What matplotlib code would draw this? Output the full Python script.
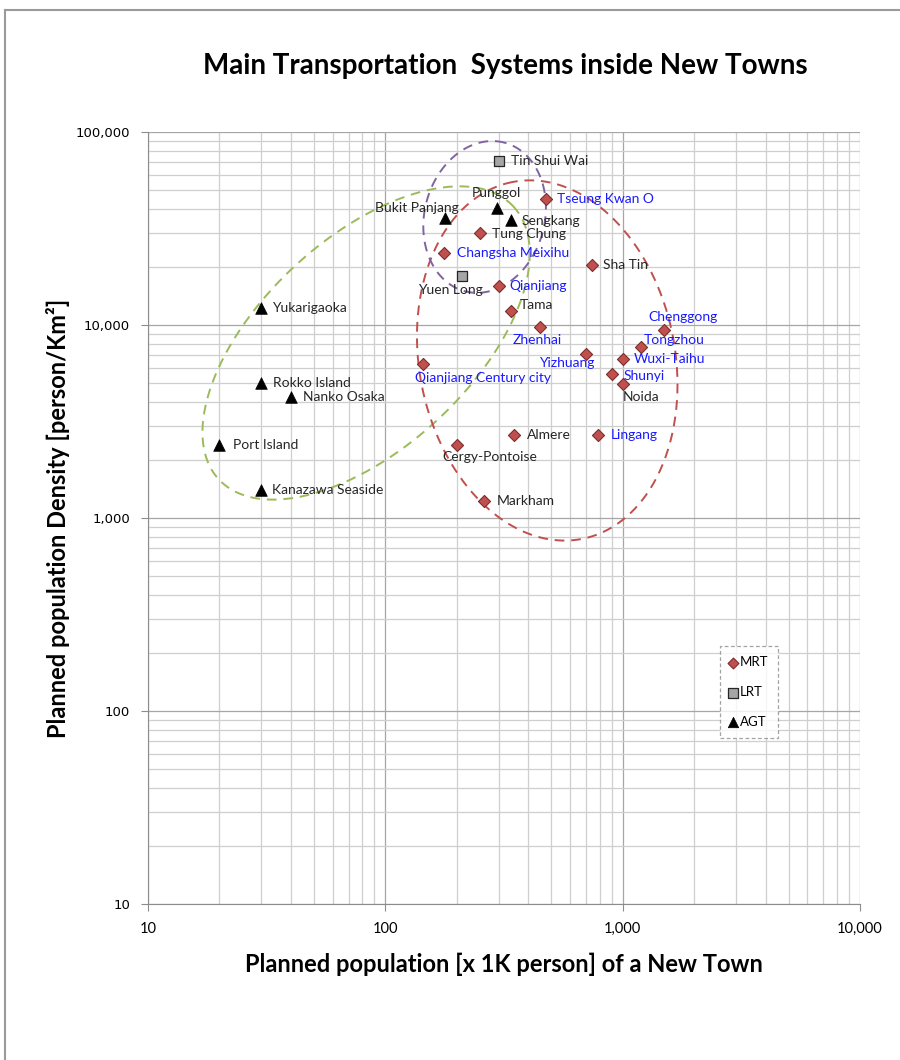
import numpy as np
import matplotlib
matplotlib.use("Agg")
import matplotlib.pyplot as plt
from matplotlib.lines import Line2D
from matplotlib.ticker import FuncFormatter, LogLocator, NullFormatter

# ---- data: planned population [x1K person], planned density [person/km2]
mrt_names = ["Tseung Kwan O", "Tung Chung", "Changsha Meixihu", "Sha Tin", "Qianjiang",
             "Tama", "Zhenhai", "Chenggong", "Tongzhou", "Wuxi-Taihu", "Yizhuang",
             "Shunyi", "Noida", "Qianjiang Century city", "Almere", "Lingang",
             "Cergy-Pontoise", "Markham"]
mrt_pop = [475, 250, 176, 740, 300, 340, 450, 1490, 1190, 1000, 700, 900, 1000, 144,
           350, 790, 200, 260]
mrt_density = [45000, 30000, 23500, 20500, 16000, 11800, 9800, 9400, 7700, 6700, 7100,
               5600, 4950, 6300, 2700, 2700, 2400, 1230]
mrt_blue = ["Tseung Kwan O", "Changsha Meixihu", "Qianjiang", "Zhenhai", "Chenggong",
            "Tongzhou", "Wuxi-Taihu", "Yizhuang", "Shunyi", "Qianjiang Century city",
            "Lingang"]

lrt_names = ["Tin Shui Wai", "Yuen Long"]
lrt_pop = [300, 210]
lrt_density = [70500, 18000]

agt_names = ["Bukit Panjang", "Punggol", "Sengkang", "Yukarigaoka", "Rokko Island",
             "Nanko Osaka", "Port Island", "Kanazawa Seaside"]
agt_pop = [178, 295, 340, 30, 30, 40, 20, 30]
agt_density = [36000, 40500, 35000, 12200, 5000, 4250, 2400, 1400]

# label offsets in pixels (dx, dy, ha)
label_pos = {
    "Tin Shui Wai": (12, 0, "left"), "Punggol": (0, 15, "center"),
    "Bukit Panjang": (14, 10, "right"), "Sengkang": (10, -1, "left"),
    "Tung Chung": (12, -1, "left"), "Tseung Kwan O": (11, 0, "left"),
    "Changsha Meixihu": (13, 0, "left"), "Sha Tin": (11, 0, "left"),
    "Yuen Long": (-11, -14, "center"), "Qianjiang": (11, 0, "left"),
    "Tama": (8, 6, "left"), "Zhenhai": (-3, -13, "center"),
    "Chenggong": (19, 13, "center"), "Tongzhou": (3, 7, "left"),
    "Wuxi-Taihu": (11, 0, "left"), "Yizhuang": (8, -9, "right"),
    "Shunyi": (12, -2, "left"), "Noida": (0, -13, "left"),
    "Qianjiang Century city": (-8, -14, "left"), "Almere": (12, 0, "left"),
    "Lingang": (12, 0, "left"), "Cergy-Pontoise": (-14, -12, "left"),
    "Markham": (13, 0, "left"), "Yukarigaoka": (11, 0, "left"),
    "Rokko Island": (12, 0, "left"), "Nanko Osaka": (12, 0, "left"),
    "Port Island": (14, 0, "left"), "Kanazawa Seaside": (11, 0, "left"),
}

# group ellipses: centre (pop, density), semi-axes in x-decades, tilt in degrees
ellipses = [
    ((83, 8070), 0.846, 0.442, 42.8, "#9BBB59"),
    ((481, 6550), 0.766, 0.539, 101, "#C0504D"),
    ((262, 36300), 0.324, 0.253, 75, "#8064A2"),
]

plt.rcParams["font.family"] = ["Lato", "DejaVu Sans"]

fig = plt.figure(figsize=(9, 10.6), dpi=100)
ax = fig.add_axes([148 / 900, 1 - 904 / 1060, 712 / 900, 772 / 1060])
ax.set_xscale("log")
ax.set_yscale("log")
ax.set_xlim(10, 10000)
ax.set_ylim(10, 100000)

ax.grid(True, which="major", color="#a6a6a6", lw=0.9)
ax.grid(True, which="minor", color="#cfcfcf", lw=0.9)
ax.xaxis.set_minor_locator(LogLocator(base=10, subs=np.arange(2, 10)))
ax.yaxis.set_minor_locator(LogLocator(base=10, subs=np.arange(2, 10)))
ax.xaxis.set_minor_formatter(NullFormatter())
ax.yaxis.set_minor_formatter(NullFormatter())
fmt = FuncFormatter(lambda v, p: f"{v:,.0f}")
ax.xaxis.set_major_formatter(fmt)
ax.yaxis.set_major_formatter(fmt)
ax.set_axisbelow(True)
for s in ["top", "right"]:
    ax.spines[s].set_visible(False)
for s in ["left", "bottom"]:
    ax.spines[s].set_color("#8c8c8c")
ax.tick_params(which="major", length=5, color="#8c8c8c", labelsize=10.5, pad=8)
ax.tick_params(which="minor", length=0)
for lab in ax.get_yticklabels():
    lab.set_fontfamily("DejaVu Sans")
    lab.set_fontsize(9.5)

# ellipses drawn in log space
xdec_px = 712 / 3
ydec_px = 772 / 4
t = np.linspace(0, 2 * np.pi, 400)
for (cx, cy), a, b, ang, col in ellipses:
    ph = np.radians(ang)
    dx = a * np.cos(t) * np.cos(ph) - b * np.sin(t) * np.sin(ph)
    dy = (a * np.cos(t) * np.sin(ph) + b * np.sin(t) * np.cos(ph)) * xdec_px / ydec_px
    ax.plot(cx * 10 ** dx, cy * 10 ** dy, color=col, lw=1.4, ls=(0, (5, 3.5)), zorder=2)

ax.scatter(mrt_pop, mrt_density, marker="D", s=38, color="#C0504D",
           edgecolor="#7a2e2c", lw=0.8, zorder=4, label="MRT")
ax.scatter(lrt_pop, lrt_density, marker="s", s=60, color="#a6a6a6",
           edgecolor="#262626", lw=0.9, zorder=4, label="LRT")
ax.scatter(agt_pop, agt_density, marker="^", s=70, color="black",
           edgecolor="black", lw=0.5, zorder=4, label="AGT")

for names, xs, ys in [(mrt_names, mrt_pop, mrt_density),
                      (lrt_names, lrt_pop, lrt_density),
                      (agt_names, agt_pop, agt_density)]:
    for n, x, y in zip(names, xs, ys):
        dx, dy, ha = label_pos[n]
        col = "#1a1aff" if n in mrt_blue else "#262626"
        ax.annotate(n, (x, y), xytext=(dx, dy), textcoords="offset pixels",
                    ha=ha, va="center", fontsize=10, color=col, zorder=5)

leg = ax.legend(loc="center", bbox_to_anchor=((749 - 148) / 712, (904 - 692) / 772),
                frameon=True, fancybox=False, edgecolor="#8c8c8c", fontsize=9.5,
                handlelength=0.6, handletextpad=0.2, labelspacing=1.35,
                borderpad=0.75, borderaxespad=0, markerscale=0.9)
leg.get_frame().set_linestyle((0, (3, 2)))
leg.get_frame().set_linewidth(0.9)

ax.set_xlabel("Planned population [x 1K person] of a New Town", fontsize=17,
              fontweight="bold", labelpad=12)
ax.set_ylabel("Planned population Density [person/Km²]", fontsize=17,
              fontweight="bold", labelpad=4)
fig.text(505 / 900, 1 - 66 / 1060, "Main Transportation  Systems inside New Towns",
         ha="center", va="center", fontsize=20, fontweight="bold")

# outer chart-area border (left and top)
fig.add_artist(Line2D([5 / 900, 5 / 900], [0, 1 - 10 / 1060], transform=fig.transFigure,
                      color="#9a9a9a", lw=1.5))
fig.add_artist(Line2D([5 / 900, 1], [1 - 10 / 1060, 1 - 10 / 1060], transform=fig.transFigure,
                      color="#9a9a9a", lw=1.5))

fig.savefig("out.png", dpi=100)
